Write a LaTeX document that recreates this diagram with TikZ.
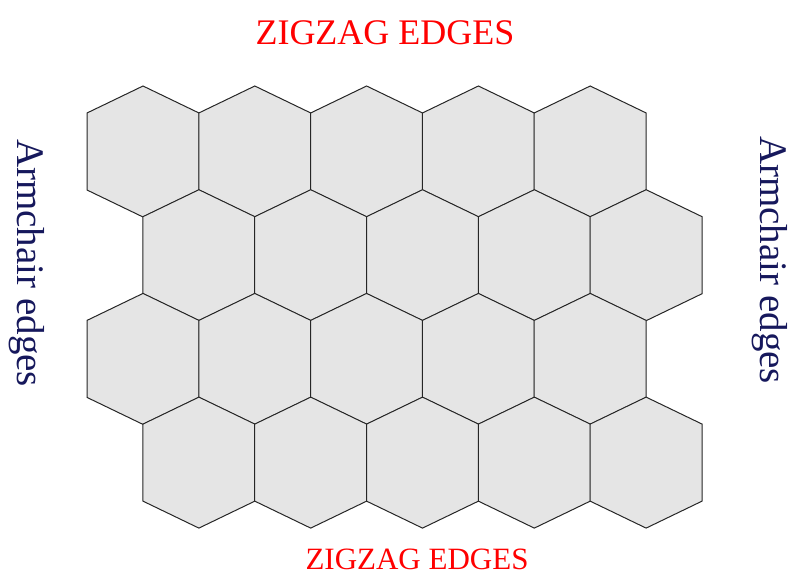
\documentclass[tikz,border=0pt]{standalone}
\usepackage{fontspec}
\setmainfont{Liberation Serif}
\definecolor{armnavy}{RGB}{22,24,92}
\tikzset{
  hexcell/.style={fill=black!10,draw=black!85,line width=1pt,line join=miter},
  zigzag/.style={text=red,inner sep=0,anchor=base},
  armchair/.style={text=armnavy,inner sep=0,anchor=base,rotate=-90,font=\fontsize{39}{44}\selectfont},
}
\begin{document}
\begin{tikzpicture}[x=1pt,y=-1pt]
  \useasboundingbox (0,0) rectangle (790,576);
  % lattice: 4 rows of 5 cells, odd rows shifted by half a cell
  \foreach \r in {0,...,3}{
    \foreach \c in {0,...,4}{
      \pgfmathsetmacro{\cx}{143+111.8*\c+55.9*mod(\r,2)}
      \pgfmathsetmacro{\cy}{152+103.7*\r}
      \filldraw[hexcell] (\cx,\cy) ++(0,-66) -- ++(56,27) -- ++(0,77)
        -- ++(-56,27) -- ++(-56,-27) -- ++(0,-77) -- cycle;
    }
  }
  \node[zigzag,font=\fontsize{36}{40}\selectfont] (topedge) at (385,44) {ZIGZAG EDGES};
  \node[zigzag,font=\fontsize{31}{35}\selectfont] (bottomedge) at (417,569) {ZIGZAG EDGES};
  \node[armchair] (leftedge) at (17,263) {Armchair edges};
  \node[armchair] (rightedge) at (760,260) {Armchair edges};
\end{tikzpicture}
\end{document}
